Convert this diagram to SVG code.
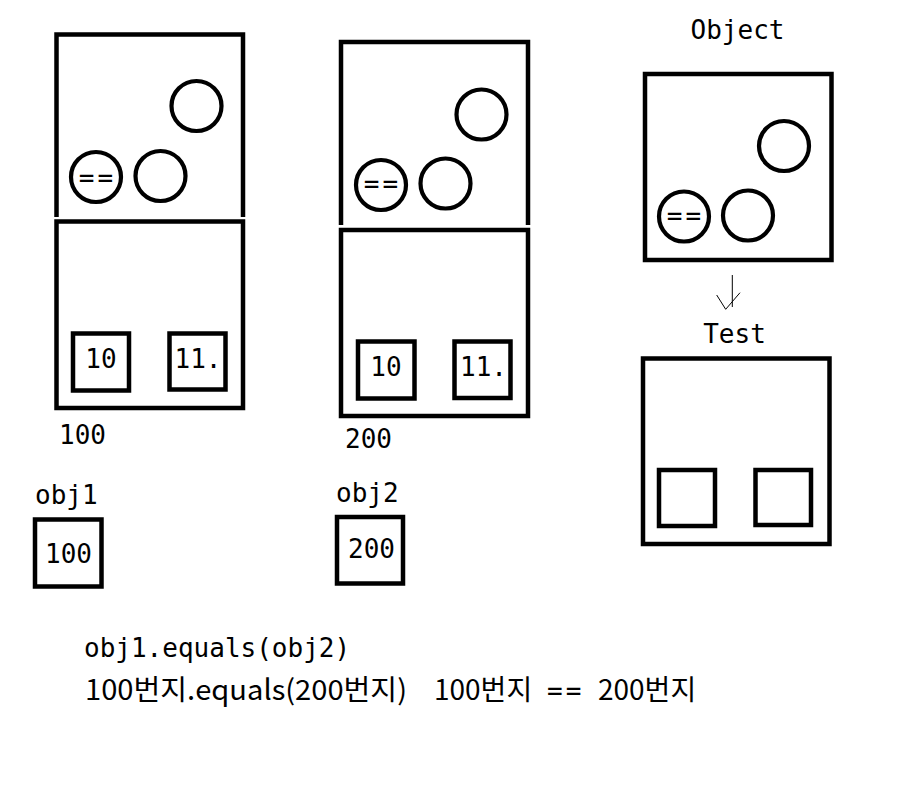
<svg xmlns="http://www.w3.org/2000/svg" width="914" height="808" viewBox="0 0 914 808">
<style>
.b{fill:none;stroke:#000;stroke-width:4.5}
.c{fill:none;stroke:#000;stroke-width:4.2}
.t{font-family:"DejaVu Sans Mono","Liberation Mono",monospace;font-size:26px;fill:#000}
.m{text-anchor:middle}
.e{letter-spacing:3px}
.k{font-family:"Noto Sans CJK KR","Noto Sans",sans-serif;font-size:28px;fill:#000}
.km{font-family:"DejaVu Sans Mono","Liberation Mono",monospace;font-size:26px;letter-spacing:3px}
</style>
<rect width="914" height="808" fill="#fff"/>
<g id="obj1-instance">
<path class="b" d="M56.5,217 V34.5 H243 V217"/>
<rect class="b" x="56.5" y="221.5" width="186.5" height="186.5"/>
<circle class="c" cx="196.5" cy="106" r="25"/>
<circle class="c" cx="96" cy="177" r="25"/>
<text class="t m e" x="97.5" y="187">==</text>
<circle class="c" cx="160.5" cy="176" r="25"/>
<rect class="b" x="73" y="333.5" width="56" height="57"/>
<text class="t m" x="101" y="368">10</text>
<rect class="b" x="169.5" y="333.5" width="56" height="56"/>
<text class="t m" x="198" y="368">11.</text>
<text class="t" x="59" y="444">100</text>
</g>
<g id="obj2-instance">
<path class="b" d="M341,225 V42 H528 V225"/>
<rect class="b" x="341" y="230" width="187" height="186"/>
<circle class="c" cx="481.5" cy="114.5" r="25"/>
<circle class="c" cx="381" cy="185" r="25"/>
<text class="t m e" x="382.5" y="193">==</text>
<circle class="c" cx="445.5" cy="183.5" r="25"/>
<rect class="b" x="358" y="341.5" width="56.5" height="57"/>
<text class="t m" x="386" y="376">10</text>
<rect class="b" x="454.5" y="341.5" width="56" height="56.5"/>
<text class="t m" x="483.5" y="376">11.</text>
<text class="t" x="345" y="448">200</text>
</g>
<g id="object-class">
<text class="t m" x="737.5" y="39">Object</text>
<rect class="b" x="645" y="74" width="186.5" height="186"/>
<circle class="c" cx="784" cy="146" r="25"/>
<circle class="c" cx="684" cy="216.5" r="25"/>
<text class="t m e" x="685.5" y="225">==</text>
<circle class="c" cx="748" cy="215.5" r="25"/>
</g>
<g id="test-class">
<text class="t m" x="734.5" y="343">Test</text>
<rect class="b" x="643" y="358.5" width="186.5" height="185.5"/>
<rect class="b" x="659" y="470" width="56" height="56"/>
<rect class="b" x="755.5" y="470" width="55.5" height="55"/>
</g>
<g id="obj1-ref">
<text class="t" x="35" y="504">obj1</text>
<rect class="b" x="35" y="519.5" width="66.5" height="67"/>
<text class="t m" x="68.5" y="563">100</text>
</g>
<g id="obj2-ref">
<text class="t" x="336" y="502">obj2</text>
<rect class="b" x="337" y="517" width="66" height="66.5"/>
<text class="t m" x="371.5" y="558">200</text>
</g>
<g id="connectors">
<path d="M732.3,275 V307" fill="none" stroke="#000" stroke-width="1"/>
<path d="M716.7,295 L725.7,309.3 L740,292.7" fill="none" stroke="#000" stroke-width="1"/>
</g>
<g id="notes">
<text class="t" x="84" y="657">obj1.equals(obj2)</text>
<text class="k" x="85" y="700" textLength="322" lengthAdjust="spacingAndGlyphs">100번지.equals(200번지)</text>
<text class="k" y="700"><tspan x="434">100번지</tspan> <tspan class="km" x="547">==</tspan> <tspan x="598">200번지</tspan></text>
</g>
</svg>
